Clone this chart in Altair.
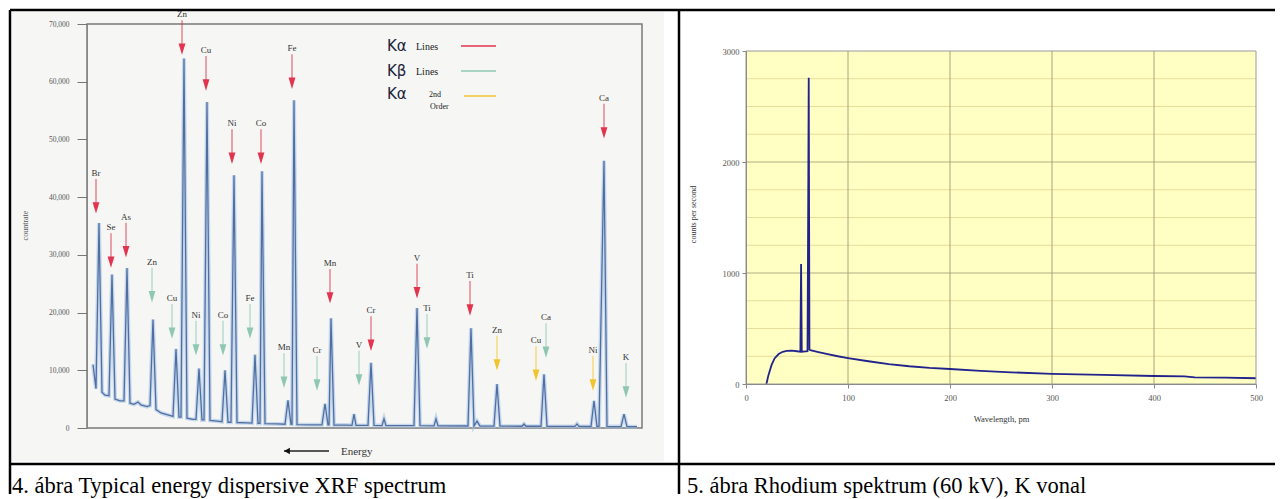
import altair as alt
import pandas as pd

# ---------------- Left panel: energy dispersive XRF spectrum ----------------
spec_channel = [6, 9, 12, 15, 18, 22, 25, 28, 33, 37, 40, 43, 47, 51, 54, 60, 63, 66, 69, 74,
                80, 86, 89, 92, 94, 97, 100, 106, 109, 112, 115, 117, 120, 123, 130, 135, 138,
                141, 144, 147, 150, 160, 165, 168, 171, 173, 175, 178, 190, 198, 201, 204, 205,
                207, 210, 225, 235, 238, 241, 242, 244, 247, 260, 265, 267, 269, 281, 284, 287,
                295, 297, 299, 327, 330, 333, 347, 349, 351, 381, 384, 387, 390, 393, 407, 410,
                413, 435, 437, 439, 454, 457, 460, 488, 490, 492, 504, 507, 510, 512, 517, 520,
                534, 537, 540, 550]
spec_counts = [11000, 6800, 35500, 6200, 5700, 5600, 26600, 5000, 4700, 4700, 27700, 4300, 4100,
               4500, 4000, 3700, 3900, 18800, 3200, 2600, 2300, 2000, 13700, 1900, 1900, 64000,
               1700, 1500, 1500, 10300, 1400, 1400, 56500, 1300, 1200, 1100, 10000, 1000, 1000,
               43800, 950, 900, 850, 12700, 800, 800, 44500, 750, 700, 650, 4800, 650, 650, 56800,
               600, 550, 550, 4200, 550, 550, 19000, 500, 500, 450, 2400, 450, 450, 11300, 450,
               420, 1600, 420, 400, 20800, 400, 380, 1600, 380, 350, 17300, 350, 1200, 330, 320,
               7600, 320, 300, 700, 300, 300, 9300, 300, 280, 700, 280, 260, 4700, 260, 260, 46300,
               250, 240, 2400, 240, 230]

ka_elements = ["Br", "Se", "As", "Zn", "Cu", "Ni", "Co", "Fe", "Mn", "Cr", "V", "Ti", "Ca"]
ka_channel = [9, 24, 39, 95, 119, 145, 174, 205, 243, 284, 330, 383, 517]
ka_tip = [37100, 27700, 29500, 64600, 58400, 45700, 45700, 58700, 21500, 13300, 22400, 19400, 50100]

kb_elements = ["Zn", "Cu", "Ni", "Co", "Fe", "Mn", "Cr", "V", "Ti", "Ca", "K"]
kb_channel = [65, 85, 109, 136, 163, 197, 230, 272, 340, 459, 539]
kb_tip = [21700, 15400, 12500, 12500, 15400, 6900, 6400, 7300, 13700, 12100, 5200]

k2_elements = ["Zn", "Cu", "Ni"]
k2_channel = [410, 449, 506]
k2_tip = [9900, 8100, 6400]

series_names = ["Kα lines", "Kβ lines", "Kα 2nd order"]
series_colors = ["#e2334f", "#8fc7b3", "#f1c531"]

y_ticks_left = [0, 10000, 20000, 30000, 40000, 50000, 60000, 70000]

# ---------------- Right panel: Rhodium spectrum ----------------
wavelength_pm = [20, 22, 25, 28, 32, 36, 40, 45, 50, 53.3, 54, 54.7, 56, 60.3, 61, 61.5, 62.2,
                 63, 70, 80, 90, 100, 120, 140, 160, 180, 200, 230, 260, 300, 350, 400, 430,
                 440, 470, 500]
counts_per_second = [0, 80, 170, 230, 270, 290, 298, 300, 295, 290, 1080, 290, 292, 295, 1650,
                     2760, 310, 305, 290, 270, 250, 234, 205, 180, 160, 145, 135, 118, 105, 92,
                     82, 72, 68, 60, 57, 52]
x_ticks_right = [0, 100, 200, 300, 400, 500]
y_ticks_right = [0, 1000, 2000, 3000]
grid_minor_right = [250, 500, 750, 1250, 1500, 1750, 2250, 2500, 2750]
grid_major_right = [1000, 2000]
grid_vertical_right = [100, 200, 300, 400]

caption_left = "4. ábra Typical energy dispersive XRF spectrum"
caption_right = "5. ábra Rhodium spektrum (60 kV), K vonal"

SERIF = "Liberation Serif"
W1, H1 = 555, 404
W2, H2 = 510, 360

one = pd.DataFrame({"k": [0]})


def ptext(txt, x, y, size, color="#222", font=SERIF, align="left", baseline="middle", weight="normal"):
    return alt.Chart(one).mark_text(
        text=txt, align=align, baseline=baseline, font=font, fontSize=size,
        color=color, fontWeight=weight
    ).encode(x=alt.value(x), y=alt.value(y))


def hrule(x, x2, y, color="black", width=2.5):
    return alt.Chart(one).mark_rule(color=color, strokeWidth=width).encode(
        x=alt.value(x), x2=alt.value(x2), y=alt.value(y))


def vrule(x, y, y2, color="black", width=2.5):
    return alt.Chart(one).mark_rule(color=color, strokeWidth=width).encode(
        x=alt.value(x), y=alt.value(y), y2=alt.value(y2))


# ---------- left chart ----------
xs1 = alt.Scale(domain=[0, 555], nice=False, zero=False)
ys1 = alt.Scale(domain=[0, 70000], nice=False)
ax_y1 = alt.Axis(
    values=y_ticks_left, labelExpr="format(datum.value, ',')", grid=False, tickSize=10,
    tickColor="#777", domainColor="#888", labelFont=SERIF, labelFontSize=7.5, labelColor="#555",
    labelPadding=8, title="countrate", titleFont=SERIF, titleFontSize=8,
    titleFontWeight="normal", titleColor="#555", titleX=-58, titleY=201, zindex=2)

panel_bg = alt.Chart(one).mark_rect(color="#f6f7f5").encode(
    x=alt.value(-75), x2=alt.value(577), y=alt.value(-12), y2=alt.value(437))

frame_df = pd.DataFrame({"x0": [0], "x1": [555], "y0": [0], "y1": [70000]})
frame_left = alt.Chart(frame_df).mark_rect(fillOpacity=0, stroke="#7a7a7a", strokeWidth=1.5).encode(
    x=alt.X("x0:Q", scale=xs1, axis=None),
    x2="x1:Q",
    y=alt.Y("y0:Q", scale=ys1, axis=ax_y1, title="countrate"),
    y2="y1:Q",
)

spec_df = pd.DataFrame({"channel": spec_channel, "counts": spec_counts})
spec_enc = dict(
    x=alt.X("channel:Q", scale=xs1, axis=None),
    y=alt.Y("counts:Q", scale=ys1, axis=ax_y1, title="countrate"),
)
spec_halo = alt.Chart(spec_df).mark_line(color="#aac3e4", strokeWidth=4, opacity=0.6).encode(**spec_enc)
spec_core = alt.Chart(spec_df).mark_line(color="#4f6fa3", strokeWidth=1.3).encode(**spec_enc)

arrow_df = pd.DataFrame({
    "element": ka_elements + kb_elements + k2_elements,
    "channel": ka_channel + kb_channel + k2_channel,
    "tip": ka_tip + kb_tip + k2_tip,
    "series": [series_names[0]] * len(ka_elements) + [series_names[1]] * len(kb_elements)
              + [series_names[2]] * len(k2_elements),
})
col = alt.Color("series:N", scale=alt.Scale(domain=series_names, range=series_colors), legend=None)
a_x = alt.X("channel:Q", scale=xs1, axis=None)
a_y = alt.Y("tip:Q", scale=ys1, axis=ax_y1, title="countrate")
shafts = alt.Chart(arrow_df).mark_rule(strokeWidth=1.2, opacity=0.75, yOffset=-35, y2Offset=-10).encode(
    x=a_x, y=a_y, y2="tip:Q", color=col)
heads = alt.Chart(arrow_df).mark_point(
    shape="M-0.6,-1L0.6,-1L0,1Z", filled=True, size=130, opacity=1, yOffset=-6
).encode(x=a_x, y=a_y, color=col)
labels = alt.Chart(arrow_df).mark_text(font=SERIF, fontSize=9, color="#333", dy=-41).encode(
    x=a_x, y=a_y, text="element:N")

legend_layers = [
    ptext("Kα", 300, 22, 15, color="#22223a", font="DejaVu Sans"),
    ptext("Lines", 329, 23, 10),
    hrule(374, 409, 22, color=series_colors[0], width=1.5),
    ptext("Kβ", 300, 47, 15, color="#22223a", font="DejaVu Sans"),
    ptext("Lines", 329, 48, 10),
    hrule(374, 409, 47, color=series_colors[1], width=1.5),
    ptext("Kα", 300, 70, 15, color="#22223a", font="DejaVu Sans"),
    ptext("2nd", 342, 71, 8),
    ptext("Order", 343, 83, 8),
    hrule(377, 409, 72, color=series_colors[2], width=1.5),
]

energy_layers = [
    hrule(197, 242, 427, color="#222", width=1.5),
    alt.Chart(one).mark_point(shape="triangle-left", filled=True, size=45, color="#111", opacity=1).encode(
        x=alt.value(200), y=alt.value(427)),
    ptext("Energy", 254, 428, 11, color="#333"),
]

borders_left = [
    hrule(-77, 1188, -14),
    vrule(-77, -14, 470),
    vrule(592, -14, 470),
    hrule(-77, 1188, 440),
    ptext(caption_left, -75, 469, 22.5, color="black", baseline="alphabetic"),
]

left = alt.layer(
    panel_bg, frame_left, spec_halo, spec_core, shafts, heads, labels,
    *legend_layers, *energy_layers, *borders_left
).properties(width=W1, height=H1)

# ---------- right chart ----------
xs2 = alt.Scale(domain=[0, 500], nice=False, zero=False)
ys2 = alt.Scale(domain=[0, 3000], nice=False, range=[360, 27])
ax_x2 = alt.Axis(
    values=x_ticks_right, grid=False, tickSize=4, tickColor="#888", domainColor="#8a8a8a",
    labelFont=SERIF, labelFontSize=8.5, labelColor="#555", labelPadding=5, labelFlush=False,
    title="Wavelength, pm", titleFont=SERIF, titleFontSize=8.5, titleFontWeight="normal",
    titleColor="#333", titleY=30, zindex=2)
ax_y2 = alt.Axis(
    values=y_ticks_right, format="d", grid=False, tickSize=4, tickColor="#888", domainColor="#8a8a8a",
    labelFont=SERIF, labelFontSize=8.5, labelColor="#555", labelPadding=3,
    title="counts per second", titleFont=SERIF, titleFontSize=8, titleFontWeight="normal",
    titleColor="#333", titleX=-49, titleY=190, zindex=2)
XT, YT = "Wavelength, pm", "counts per second"

bg_df = pd.DataFrame({"x0": [0], "x1": [500], "y0": [0], "y1": [3000]})
yellow_bg = alt.Chart(bg_df).mark_rect(color="#ffffc4").encode(
    x=alt.X("x0:Q", scale=xs2, axis=ax_x2, title=XT), x2="x1:Q",
    y=alt.Y("y0:Q", scale=ys2, axis=ax_y2, title=YT), y2="y1:Q",
)

minor_df = pd.DataFrame({"y": grid_minor_right})
minor_grid = alt.Chart(minor_df).mark_rule(color="#e6dd98", strokeWidth=1).encode(
    y=alt.Y("y:Q", scale=ys2, axis=ax_y2, title=YT), x=alt.value(0), x2=alt.value(W2))
major_df = pd.DataFrame({"y": grid_major_right})
major_grid = alt.Chart(major_df).mark_rule(color="#b3ac84", strokeWidth=1).encode(
    y=alt.Y("y:Q", scale=ys2, axis=ax_y2, title=YT), x=alt.value(0), x2=alt.value(W2))
vert_df = pd.DataFrame({"x": grid_vertical_right, "y0": [0] * 4, "y1": [3000] * 4})
vert_grid = alt.Chart(vert_df).mark_rule(color="#aaa27c", strokeWidth=1).encode(
    x=alt.X("x:Q", scale=xs2, axis=ax_x2, title=XT),
    y=alt.Y("y0:Q", scale=ys2, axis=ax_y2, title=YT), y2="y1:Q")

curve_df = pd.DataFrame({"wl": wavelength_pm, "cps": counts_per_second})
curve = alt.Chart(curve_df).mark_line(color="#22228c", strokeWidth=1.8).encode(
    x=alt.X("wl:Q", scale=xs2, axis=ax_x2, title=XT),
    y=alt.Y("cps:Q", scale=ys2, axis=ax_y2, title=YT))

frame_right = alt.Chart(bg_df).mark_rect(fillOpacity=0, stroke="#999", strokeWidth=1).encode(
    x=alt.X("x0:Q", scale=xs2, axis=ax_x2, title=XT), x2="x1:Q",
    y=alt.Y("y0:Q", scale=ys2, axis=ax_y2, title=YT), y2="y1:Q")

caption2 = ptext(caption_right, -59, 469, 22.5, color="black", baseline="alphabetic")

right = alt.layer(
    yellow_bg, minor_grid, major_grid, vert_grid, curve, frame_right, caption2
).properties(width=W2, height=H2)

chart = alt.hconcat(left, right, spacing=104, bounds="flush").properties(
    padding=0, background="white"
).configure_view(stroke=None)

chart.save("out.html", embed_options={"renderer": "svg", "actions": False})
